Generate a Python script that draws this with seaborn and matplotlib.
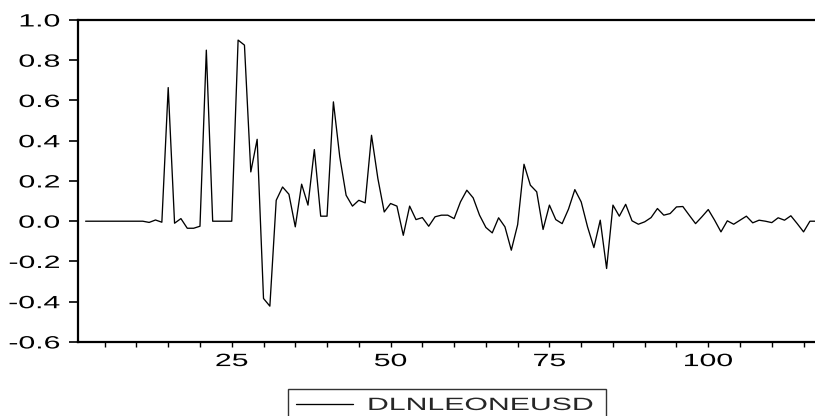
import numpy as np
import pandas as pd
import matplotlib
matplotlib.use("Agg")
import matplotlib.pyplot as plt
import seaborn as sns
from matplotlib.ticker import MultipleLocator, FormatStrFormatter
from matplotlib.patheffects import AbstractPathEffect
from matplotlib.transforms import Affine2D

# ---- data ----
series_name = "DLNLEONEUSD"
obs = list(range(2, 118))
values = [
    0, 0, 0, 0, 0, 0, 0, 0, 0, 0,              # 2-11
    -0.006, 0.006, -0.005, 0.664, -0.010,      # 12-16
    0.013, -0.035, -0.035, -0.025, 0.850,      # 17-21
    0.0, 0.0, 0.0, 0.0, 0.900,                 # 22-26
    0.875, 0.245, 0.407, -0.384, -0.422,       # 27-31
    0.104, 0.170, 0.134, -0.028, 0.184,        # 32-36
    0.080, 0.356, 0.025, 0.025, 0.593,         # 37-41
    0.320, 0.129, 0.075, 0.104, 0.091,         # 42-46
    0.427, 0.212, 0.046, 0.088, 0.075,         # 47-51
    -0.070, 0.075, 0.008, 0.018, -0.025,       # 52-56
    0.022, 0.030, 0.030, 0.013, 0.096,         # 57-61
    0.154, 0.116, 0.030, -0.031, -0.058,       # 62-66
    0.017, -0.028, -0.144, -0.017, 0.283,      # 67-71
    0.179, 0.146, -0.041, 0.080, 0.008,        # 72-76
    -0.012, 0.060, 0.157, 0.096, -0.028,       # 77-81
    -0.131, 0.005, -0.235, 0.080, 0.025,       # 82-86
    0.084, 0.002, -0.015, -0.003, 0.018,       # 87-91
    0.063, 0.030, 0.038, 0.071, 0.073,         # 92-96
    0.030, -0.012, 0.022, 0.058, 0.005,        # 97-101
    -0.053, 0.002, -0.015, 0.005, 0.025,       # 102-106
    -0.008, 0.005, 0.0, -0.007, 0.017,         # 107-111
    0.005, 0.027, -0.012, -0.053, 0.0,         # 112-116
    0.0,                                       # 117
]
y_ticks = [-0.6, -0.4, -0.2, 0.0, 0.2, 0.4, 0.6, 0.8, 1.0]
x_major = [25, 50, 75, 100]

df = pd.DataFrame({"obs": obs, series_name: values})


class Stretch(AbstractPathEffect):
    """Draw text horizontally widened (the reference uses a wide face)."""

    def __init__(self, sx=1.7, anchor="center"):
        super().__init__()
        self.sx = sx
        self.anchor = anchor

    def draw_path(self, renderer, gc, tpath, affine, rgbFace=None):
        ext = tpath.get_extents()
        if self.anchor == "left":
            a = ext.x0
        elif self.anchor == "right":
            a = ext.x1
        else:
            a = 0.5 * (ext.x0 + ext.x1)
        pre = Affine2D().translate(-a, 0).scale(self.sx, 1.0).translate(a, 0)
        renderer.draw_path(gc, tpath, pre + affine, rgbFace)


sns.set_style("white")
plt.rcParams["font.family"] = ["Liberation Sans", "DejaVu Sans"]
plt.rcParams["axes.unicode_minus"] = False

FS = 12.8
SX = 1.7

fig = plt.figure(figsize=(8.15, 4.16), dpi=100)
ax = fig.add_axes([0.0953, 0.178, 0.9047, 0.774])

sns.lineplot(data=df, x="obs", y=series_name, ax=ax, color="black",
             linewidth=0.95, label=series_name, legend=False)

ax.set_xlim(0.75, 116.8)
ax.set_ylim(-0.6, 1.0)
ax.set_yticks(y_ticks)
ax.yaxis.set_major_formatter(FormatStrFormatter("%.1f"))
ax.set_xticks(x_major)
ax.xaxis.set_minor_locator(MultipleLocator(5))
ax.set_xlabel("")
ax.set_ylabel("")

for side in ["left", "top", "bottom"]:
    ax.spines[side].set_visible(True)
    ax.spines[side].set_color("black")
    ax.spines[side].set_linewidth(1.6)
ax.spines["right"].set_visible(False)

ax.tick_params(axis="y", which="major", direction="out", length=6.8, width=1.2,
               pad=6, labelsize=FS, colors="black", left=True)
ax.tick_params(axis="x", which="both", direction="out", length=3.5, width=1,
               pad=4.5, labelsize=FS, colors="black", bottom=True)

for t in ax.get_yticklabels():
    t.set_path_effects([Stretch(SX, "right")])
for t in ax.get_xticklabels():
    t.set_path_effects([Stretch(SX, "center")])

leg = fig.legend(handles=ax.get_lines()[:1], labels=[series_name],
                 loc="upper left",
                 bbox_to_anchor=(288 / 815, 0.0, (606 - 288) / 815, 1 - 389 / 416),
                 mode="expand", frameon=True, fancybox=False, fontsize=FS,
                 handlelength=3.2, handletextpad=0.85, borderpad=0.45,
                 borderaxespad=0)
leg.get_frame().set_edgecolor("black")
leg.get_frame().set_linewidth(1.0)
for t in leg.get_texts():
    t.set_path_effects([Stretch(SX, "left")])

fig.savefig("out.png", dpi=100)
